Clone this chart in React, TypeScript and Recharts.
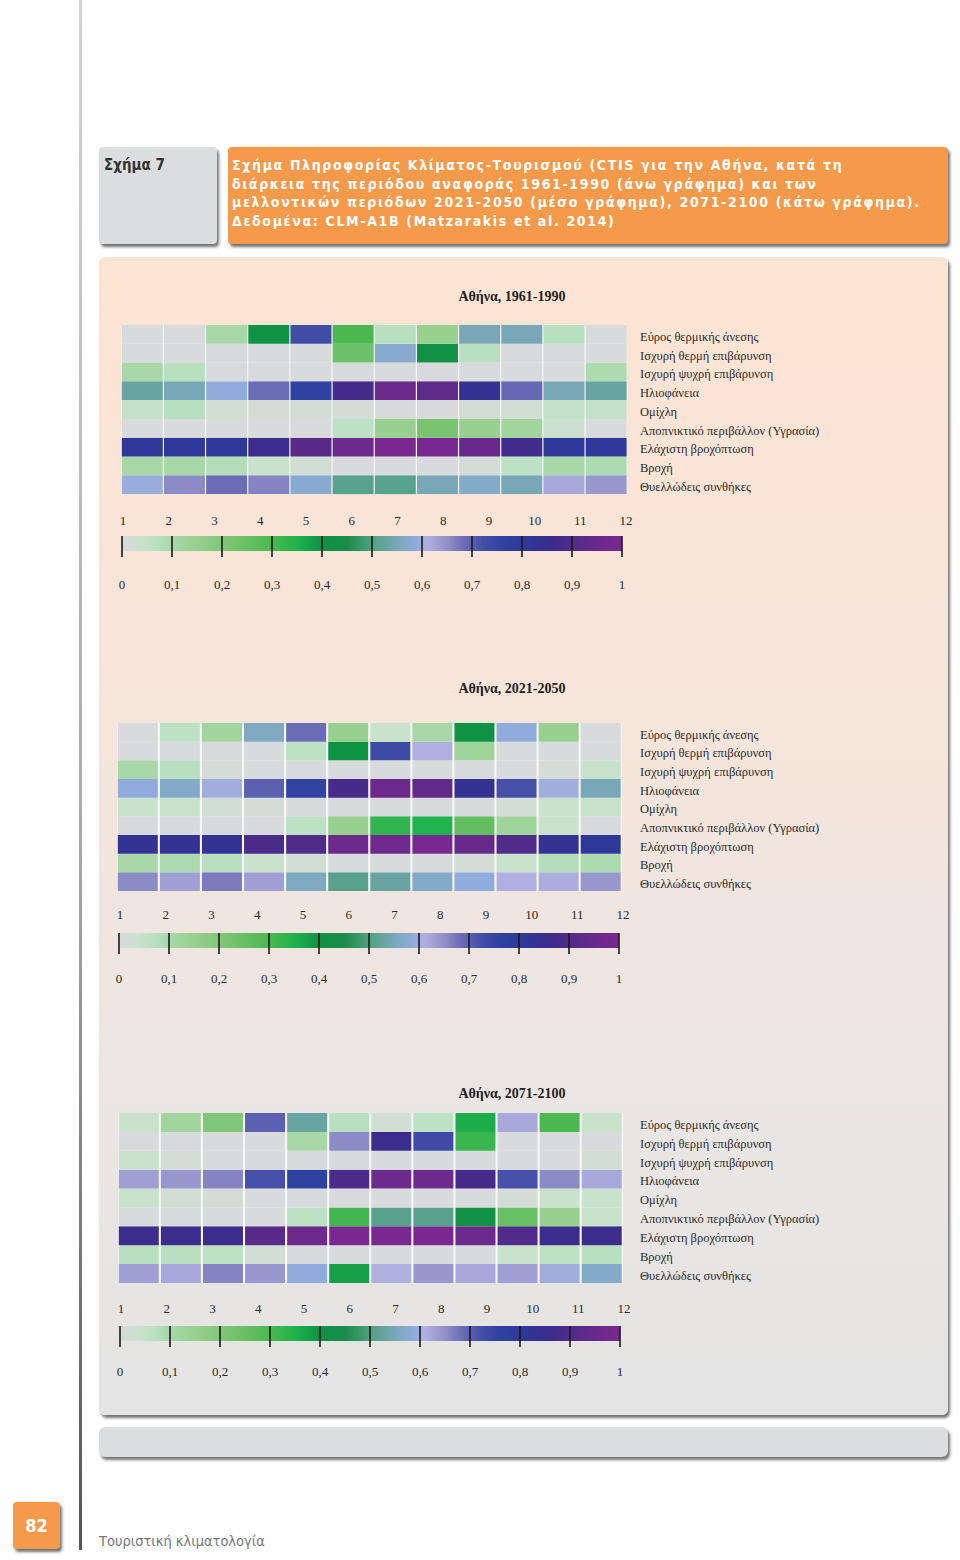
import React from 'react';
import { BarChart, Bar, XAxis, YAxis, Cell, CartesianGrid, ReferenceLine } from 'recharts';

// Row names of the CTIS grid, top to bottom
const rowLabels = [
  'Εύρος θερμικής άνεσης',
  'Ισχυρή θερμή επιβάρυνση',
  'Ισχυρή ψυχρή επιβάρυνση',
  'Ηλιοφάνεια',
  'Ομίχλη',
  'Αποπνικτικό περιβάλλον (Υγρασία)',
  'Ελάχιστη βροχόπτωση',
  'Βροχή',
  'Θυελλώδεις συνθήκες',
];
const rowTicks = [0.5, 1.5, 2.5, 3.5, 4.5, 5.5, 6.5, 7.5, 8.5];

const months = ['1', '2', '3', '4', '5', '6', '7', '8', '9', '10', '11', '12'];
const monthTicks = [1, 2, 3, 4, 5, 6, 7, 8, 9, 10, 11, 12];
const monthDomain = [0.98, 11.91];

const scaleTicks = [0, 0.1, 0.2, 0.3, 0.4, 0.5, 0.6, 0.7, 0.8, 0.9, 1];
const scaleLabels = ['0', '0,1', '0,2', '0,3', '0,4', '0,5', '0,6', '0,7', '0,8', '0,9', '1'];

// frequency (0..1) per row and month
const period1961 = [
  [0, 0, 0.1, 0.4, 0.73, 0.3, 0.07, 0.15, 0.55, 0.55, 0.07, 0],
  [0, 0, 0, 0, 0, 0.24, 0.575, 0.41, 0.07, 0, 0, 0],
  [0.1, 0.07, 0, 0, 0, 0, 0, 0, 0, 0, 0, 0.09],
  [0.53, 0.55, 0.59, 0.685, 0.76, 0.88, 0.96, 0.93, 0.83, 0.69, 0.55, 0.53],
  [0.05, 0.07, 0.02, 0.01, 0.01, 0.01, 0, 0, 0.01, 0.02, 0.05, 0.05],
  [0, 0, 0, 0, 0, 0.06, 0.15, 0.22, 0.15, 0.12, 0.03, 0],
  [0.81, 0.81, 0.81, 0.86, 0.92, 0.96, 1.0, 0.99, 0.95, 0.87, 0.8, 0.8],
  [0.1, 0.1, 0.08, 0.04, 0.02, 0, 0, 0, 0.01, 0.06, 0.1, 0.09],
  [0.595, 0.655, 0.685, 0.66, 0.575, 0.51, 0.51, 0.55, 0.57, 0.55, 0.62, 0.64],
];

const period2021 = [
  [0, 0.06, 0.12, 0.56, 0.685, 0.15, 0.04, 0.1, 0.4, 0.59, 0.15, 0],
  [0, 0, 0, 0, 0.06, 0.4, 0.735, 0.61, 0.13, 0, 0, 0],
  [0.1, 0.07, 0.01, 0, 0, 0, 0, 0, 0, 0, 0.01, 0.04],
  [0.59, 0.57, 0.6, 0.7, 0.755, 0.88, 0.96, 0.93, 0.83, 0.72, 0.6, 0.55],
  [0.04, 0.04, 0.02, 0.01, 0, 0, 0, 0, 0, 0.01, 0.04, 0.04],
  [0, 0, 0, 0, 0.06, 0.15, 0.33, 0.35, 0.26, 0.13, 0.04, 0],
  [0.83, 0.83, 0.83, 0.89, 0.9, 0.96, 0.97, 0.99, 0.95, 0.9, 0.83, 0.81],
  [0.1, 0.09, 0.07, 0.04, 0.02, 0, 0, 0, 0.01, 0.04, 0.08, 0.09],
  [0.655, 0.63, 0.67, 0.63, 0.56, 0.51, 0.53, 0.57, 0.59, 0.61, 0.615, 0.64],
];

const period2071 = [
  [0.04, 0.12, 0.2, 0.7, 0.53, 0.07, 0.02, 0.06, 0.36, 0.62, 0.3, 0.04],
  [0, 0, 0, 0, 0.1, 0.655, 0.86, 0.735, 0.32, 0, 0, 0],
  [0.04, 0.01, 0, 0, 0, 0, 0, 0, 0, 0, 0, 0.02],
  [0.63, 0.64, 0.66, 0.72, 0.76, 0.89, 0.96, 0.96, 0.88, 0.72, 0.655, 0.62],
  [0.04, 0.02, 0.01, 0, 0, 0, 0, 0, 0, 0.01, 0.04, 0.04],
  [0, 0, 0, 0, 0.06, 0.31, 0.51, 0.51, 0.41, 0.25, 0.15, 0.04],
  [0.86, 0.86, 0.86, 0.92, 0.96, 0.99, 0.99, 1.0, 0.96, 0.9, 0.86, 0.86],
  [0.07, 0.07, 0.06, 0.02, 0, 0, 0, 0, 0, 0.04, 0.06, 0.07],
  [0.63, 0.62, 0.66, 0.64, 0.59, 0.38, 0.61, 0.64, 0.62, 0.63, 0.6, 0.57],
];

// colour scale stops (value -> colour), shared by cells and the legend bar
const cmapValues = [0, 0.04, 0.07, 0.1, 0.15, 0.22, 0.3, 0.35, 0.4, 0.45, 0.5, 0.55, 0.59, 0.61, 0.65, 0.68, 0.72, 0.76, 0.81, 0.86, 0.92, 0.96, 1];
const cmapColors = [
  '#d8dadb', '#c8e2cc', '#b8e0c0', '#a8d8a8', '#98d090', '#78c470', '#4cb850', '#20b24c',
  '#0e9244', '#1a8c48', '#50a080', '#78a8b8', '#90acdc', '#b0b0e0', '#9090c8', '#7070b8',
  '#4650a8', '#2e42a0', '#2e3898', '#3c2c8c', '#5a2a88', '#6c2a8c', '#7a2890',
];

const hexToRgb = (h: string) => [parseInt(h.slice(1, 3), 16), parseInt(h.slice(3, 5), 16), parseInt(h.slice(5, 7), 16)];

const colorFor = (v: number) => {
  if (v <= cmapValues[0]) return cmapColors[0];
  for (let i = 1; i < cmapValues.length; i++) {
    if (v <= cmapValues[i]) {
      const t = (v - cmapValues[i - 1]) / (cmapValues[i] - cmapValues[i - 1]);
      const a = hexToRgb(cmapColors[i - 1]);
      const b = hexToRgb(cmapColors[i]);
      return `rgb(${a.map((c, k) => Math.round(c + (b[k] - c) * t)).join(',')})`;
    }
  }
  return cmapColors[cmapColors.length - 1];
};

const SERIF = '"Liberation Serif", "DejaVu Serif", serif';
const SANS = '"DejaVu Sans Condensed", "DejaVu Sans", sans-serif';
const ORANGE = '#f5994b';
const SHADOW = '2px 3px 3px rgba(0,0,0,0.55)';
const LABEL_X = 640;

const panels = [
  { title: 'Αθήνα, 1961-1990', values: period1961, titleY: 297, gx: 121, gy: 325, gw: 506, gh: 169, bx: 122, barTop: 536, numY: 520, labY: 584 },
  { title: 'Αθήνα, 2021-2050', values: period2021, titleY: 689, gx: 117, gy: 723, gw: 505, gh: 168, bx: 119, barTop: 933, numY: 914, labY: 978 },
  { title: 'Αθήνα, 2071-2100', values: period2071, titleY: 1094, gx: 118, gy: 1113, gw: 505, gh: 170, bx: 120, barTop: 1326, numY: 1308, labY: 1371 },
];

// plain svg text so long names never wrap
const RowTick = ({ x, y, payload }: any) => (
  <text x={x} y={y + 2} dy="0.35em" textAnchor="start" fontSize={12.5} fill="#2a2a2a" fontFamily={SERIF}>
    {rowLabels[rowLabels.length - 1 - Math.floor(payload.value)]}
  </text>
);

const Heatmap = ({ values, left, top, width, height }: any) => {
  const table = months.map((m) => {
    const row: any = { month: m };
    rowLabels.forEach((_, i) => { row['r' + i] = 1; });
    return row;
  });
  const order = rowLabels.map((_, k) => rowLabels.length - 1 - k);
  return (
    <div style={{ position: 'absolute', left, top }}>
      <BarChart width={width + 240} height={height} data={table} margin={{ top: 0, right: 0, bottom: 0, left: 0 }} barCategoryGap={0.8}>
        <CartesianGrid horizontal={false} vertical={false} fill="#f7f7f5" />
        <XAxis dataKey="month" hide />
        <YAxis
          orientation="right"
          type="number"
          domain={[0, 9]}
          ticks={rowTicks}
          interval={0}
          width={240}
          axisLine={false}
          tickLine={false}
          tickSize={6}
          tickMargin={LABEL_X - (left + width) - 6}
          tick={<RowTick />}
        />
        {order.map((i) => (
          <Bar key={i} dataKey={'r' + i} stackId="s" isAnimationActive={false}>
            {values[i].map((v: number, j: number) => (
              <Cell key={j} fill={colorFor(v)} />
            ))}
          </Bar>
        ))}
      </BarChart>
    </div>
  );
};

const ColorBar = ({ id, barLeft, barTop, numY, labY }: any) => {
  const barH = 15;
  const topH = 30;
  const botH = 45;
  return (
    <div style={{ position: 'absolute', left: barLeft - 20, top: barTop - topH }}>
      <BarChart
        width={540}
        height={topH + barH + botH}
        layout="vertical"
        data={[{ k: 'scale', v: 1 }]}
        margin={{ top: 0, right: 20, bottom: 0, left: 20 }}
        barCategoryGap={0}
      >
        <defs>
          <linearGradient id={id} x1="0" y1="0" x2="1" y2="0">
            {cmapValues.map((v, i) => (
              <stop key={i} offset={v} stopColor={cmapColors[i]} />
            ))}
          </linearGradient>
        </defs>
        <XAxis
          xAxisId="m"
          orientation="top"
          type="number"
          domain={monthDomain}
          allowDataOverflow
          ticks={monthTicks}
          interval={0}
          height={topH}
          axisLine={false}
          tickLine={false}
          tickSize={0}
          tickMargin={barTop - numY - 4.5}
          tick={{ fontSize: 13, fill: '#2a2a2a', fontFamily: SERIF }}
        />
        <XAxis
          type="number"
          domain={[0, 1]}
          ticks={scaleTicks}
          interval={0}
          height={botH}
          axisLine={false}
          tickLine={{ stroke: '#1a1a1a', strokeWidth: 1.6 }}
          tickSize={6}
          tickMargin={labY - (barTop + barH) - 10.7}
          tickFormatter={(v: number) => scaleLabels[scaleTicks.indexOf(v)]}
          tick={{ fontSize: 13, fill: '#2a2a2a', fontFamily: SERIF }}
        />
        <YAxis type="category" dataKey="k" hide />
        <Bar dataKey="v" fill={`url(#${id})`} isAnimationActive={false} />
        {scaleTicks.map((t) => (
          <ReferenceLine key={t} x={t} stroke="#1a1a1a" strokeWidth={1.6} />
        ))}
      </BarChart>
    </div>
  );
};

export default function App() {
  return (
    <div style={{ position: 'absolute', left: 0, top: 0, width: 960, height: 1560, background: '#ffffff', overflow: 'hidden' }}>
      {/* page rule */}
      <div style={{ position: 'absolute', left: 79, top: 0, width: 3, height: 1550, background: 'linear-gradient(180deg, #d4d4d4 0%, #a8a8a8 55%, #555 100%)' }} />

      {/* caption boxes */}
      <div style={{ position: 'absolute', left: 99, top: 147, width: 118, height: 97, background: '#dcdddf', borderRadius: 4, boxShadow: SHADOW }}>
        <div style={{ position: 'absolute', left: 5, top: 9, fontFamily: SANS, fontWeight: 700, fontSize: 15, color: '#333', whiteSpace: 'nowrap' }}>Σχήμα 7</div>
      </div>
      <div style={{ position: 'absolute', left: 228, top: 147, width: 720, height: 97, background: ORANGE, borderRadius: 4, boxShadow: SHADOW }}>
        <div style={{ position: 'absolute', left: 4, top: 9, fontFamily: SANS, fontWeight: 700, fontSize: 14, lineHeight: '18.5px', letterSpacing: 1.65, color: '#ffffff', whiteSpace: 'nowrap' }}>
          Σχήμα Πληροφορίας Κλίματος-Τουρισμού (CTIS για την Αθήνα, κατά τη<br />
          διάρκεια της περιόδου αναφοράς 1961-1990 (άνω γράφημα) και των<br />
          μελλοντικών περιόδων 2021-2050 (μέσο γράφημα), 2071-2100 (κάτω γράφημα).<br />
          Δεδομένα: CLM-A1B (Matzarakis et al. 2014)
        </div>
      </div>

      {/* main panel */}
      <div style={{ position: 'absolute', left: 99, top: 257, width: 849, height: 1158, borderRadius: 6, background: 'linear-gradient(180deg, #fde4d3 0%, #f6e5da 40%, #ebe6e3 70%, #e4e4e4 100%)', boxShadow: SHADOW }} />

      {panels.map((p, n) => (
        <React.Fragment key={n}>
          <div style={{ position: 'absolute', left: 362, width: 300, top: p.titleY - 9, textAlign: 'center', fontFamily: SERIF, fontWeight: 700, fontSize: 14, lineHeight: '18px', color: '#222' }}>{p.title}</div>
          <Heatmap values={p.values} left={p.gx} top={p.gy} width={p.gw} height={p.gh} />
          <ColorBar id={'scale' + n} barLeft={p.bx} barTop={p.barTop} numY={p.numY} labY={p.labY} />
        </React.Fragment>
      ))}

      {/* lower grey strip */}
      <div style={{ position: 'absolute', left: 99, top: 1427, width: 849, height: 30, borderRadius: 6, background: '#dcdddf', boxShadow: SHADOW }} />

      {/* footer */}
      <div style={{ position: 'absolute', left: 13, top: 1502, width: 47, height: 47, borderRadius: 4, background: ORANGE, boxShadow: SHADOW, color: '#fff', fontFamily: SANS, fontWeight: 700, fontSize: 18, lineHeight: '47px', textAlign: 'center' }}>82</div>
      <div style={{ position: 'absolute', left: 99, top: 1533, fontFamily: SANS, fontSize: 14.5, color: '#777', whiteSpace: 'nowrap' }}>Τουριστική κλιματολογία</div>
    </div>
  );
}
